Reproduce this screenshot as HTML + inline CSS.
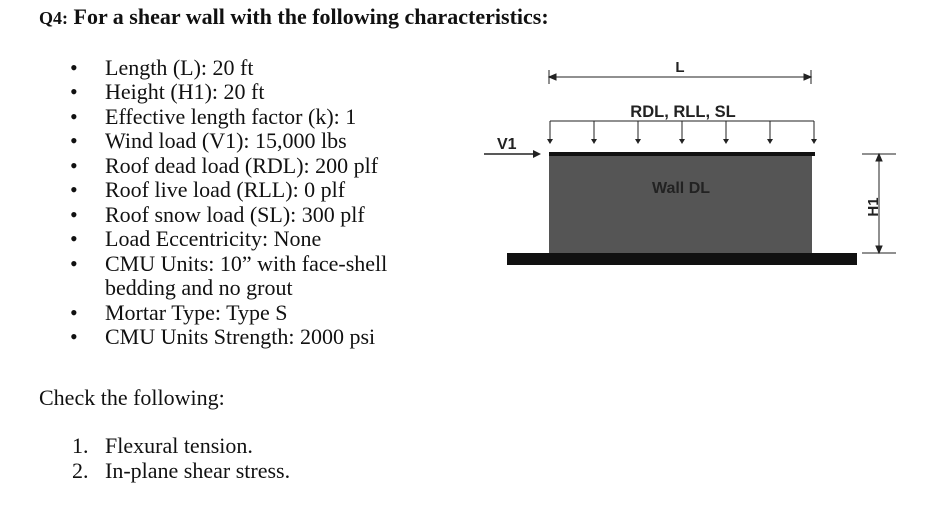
<!DOCTYPE html>
<html><head><meta charset="utf-8"><style>
body{margin:0;width:926px;height:520px;background:#fff;position:relative;overflow:hidden;font-family:"Liberation Serif",serif;color:#111}
.t{position:absolute;font-size:22px;line-height:24px;white-space:nowrap}
.b{position:absolute;left:70px;font-size:22px;line-height:24px}
</style></head><body>
<div class="t" style="left:39px;top:5px;font-weight:bold"><span style="font-size:18px">Q4:</span> For a shear wall with the following characteristics:</div>
<div>
<div class="b" style="top:56px">•</div><div class="t" style="left:105px;top:56px">Length (L): 20 ft</div>
<div class="b" style="top:80px">•</div><div class="t" style="left:105px;top:80px">Height (H1): 20 ft</div>
<div class="b" style="top:105px">•</div><div class="t" style="left:105px;top:105px">Effective length factor (k): 1</div>
<div class="b" style="top:129px">•</div><div class="t" style="left:105px;top:129px">Wind load (V1): 15,000 lbs</div>
<div class="b" style="top:154px">•</div><div class="t" style="left:105px;top:154px">Roof dead load (RDL): 200 plf</div>
<div class="b" style="top:178px">•</div><div class="t" style="left:105px;top:178px">Roof live load (RLL): 0 plf</div>
<div class="b" style="top:203px">•</div><div class="t" style="left:105px;top:203px">Roof snow load (SL): 300 plf</div>
<div class="b" style="top:227px">•</div><div class="t" style="left:105px;top:227px">Load Eccentricity: None</div>
<div class="b" style="top:252px">•</div><div class="t" style="left:105px;top:252px">CMU Units: 10” with face-shell</div>
<div class="t" style="left:105px;top:276px">bedding and no grout</div>
<div class="b" style="top:301px">•</div><div class="t" style="left:105px;top:301px">Mortar Type: Type S</div>
<div class="b" style="top:325px">•</div><div class="t" style="left:105px;top:325px">CMU Units Strength: 2000 psi</div>
</div>
<div class="t" style="left:39px;top:386px">Check the following:</div>
<div class="t" style="left:72px;top:434px">1.</div><div class="t" style="left:105px;top:434px">Flexural tension.</div>
<div class="t" style="left:72px;top:459px">2.</div><div class="t" style="left:105px;top:459px">In-plane shear stress.</div>
<svg width="926" height="520" style="position:absolute;left:0;top:0" font-family="Liberation Sans, sans-serif" font-weight="bold">
<g stroke="#222" stroke-width="1">
<line x1="549" y1="70" x2="549" y2="84"/><line x1="811" y1="70" x2="811" y2="84"/>
<line x1="549" y1="77" x2="811" y2="77"/>
<path d="M549 77 l7 -3 v6z M811 77 l-7 -3 v6z" fill="#222"/>
</g>
<text x="680" y="72" font-size="15" text-anchor="middle" fill="#222">L</text>
<text x="683" y="117" font-size="16.5" text-anchor="middle" fill="#222">RDL, RLL, SL</text>
<g stroke="#222" stroke-width="1" fill="#222">
<line x1="550" y1="121" x2="814" y2="121"/>
<line x1="550" y1="121" x2="550" y2="143"/><line x1="594" y1="121" x2="594" y2="143"/><line x1="638" y1="121" x2="638" y2="143"/><line x1="682" y1="121" x2="682" y2="143"/><line x1="726" y1="121" x2="726" y2="143"/><line x1="770" y1="121" x2="770" y2="143"/><line x1="814" y1="121" x2="814" y2="143"/>
<path d="M547 139h6l-3 5z M591 139h6l-3 5z M635 139h6l-3 5z M679 139h6l-3 5z M723 139h6l-3 5z M767 139h6l-3 5z M811 139h6l-3 5z" stroke="none"/>
</g>
<text x="497" y="149" font-size="16" fill="#222">V1</text>
<g><line x1="484" y1="154" x2="535" y2="154" stroke="#222" stroke-width="1.5"/><path d="M541 154l-8 -4v8z" fill="#222"/></g>
<rect x="549" y="154" width="263" height="100" fill="#555"/>
<rect x="549" y="152" width="266" height="4" fill="#111"/>
<text x="681" y="193" font-size="16" text-anchor="middle" fill="#222">Wall DL</text>
<rect x="507" y="253" width="350" height="12" fill="#111"/>
<g stroke="#222" stroke-width="1">
<line x1="862" y1="154" x2="896" y2="154"/><line x1="862" y1="253" x2="896" y2="253"/>
<line x1="879" y1="154" x2="879" y2="253"/>
<path d="M879 154l-3 7h6z M879 253l-3 -7h6z" fill="#222"/>
</g>
<text x="878" y="207" font-size="15" text-anchor="middle" fill="#222" transform="rotate(-90 878 207)">H1</text>
</svg>
</body></html>
